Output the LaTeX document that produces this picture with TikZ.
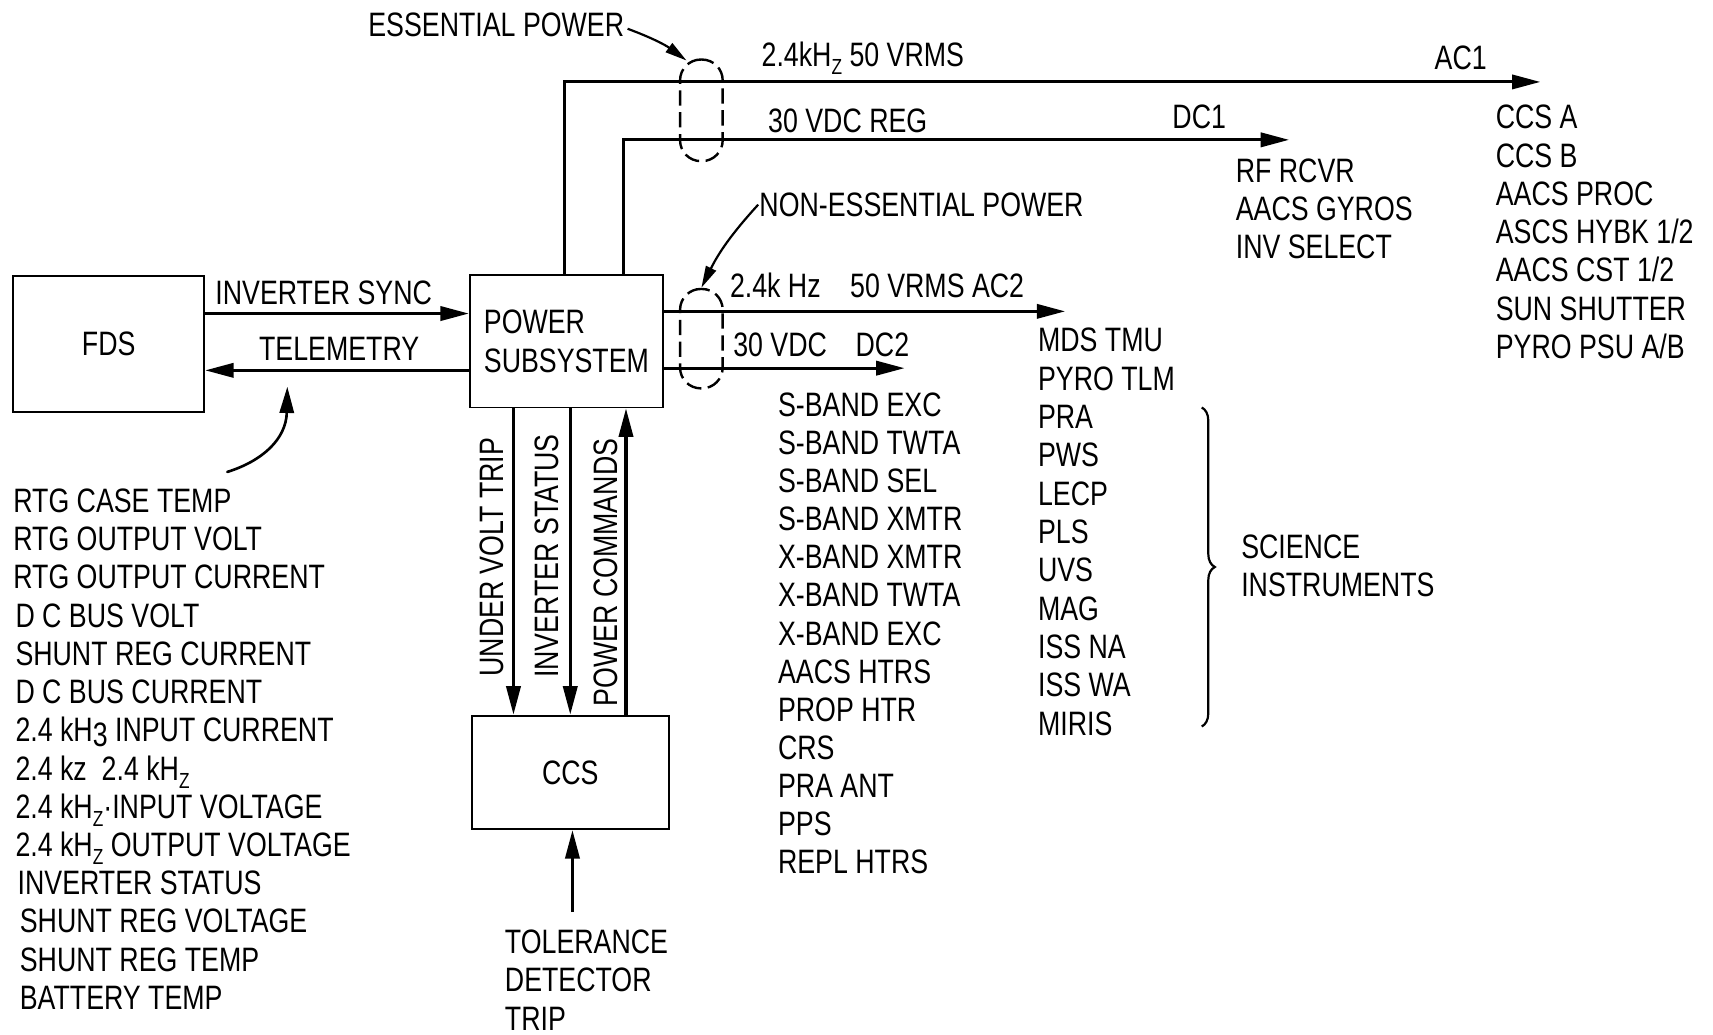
\documentclass[tikz,border=0pt]{standalone}
\usepackage{fontspec}
\setmainfont{Liberation Sans}[FakeStretch=0.79]
\usetikzlibrary{arrows.meta,shapes.geometric,decorations.pathreplacing}
\newcommand{\lowz}{\raisebox{-0.45ex}{\fontsize{20}{20}\selectfont Z}}
\newcommand{\lowthree}{\raisebox{-0.25ex}{3}}
\begin{document}
\begin{tikzpicture}[x=1pt,y=-1pt,
  every node/.append style={font=\fontsize{31}{36}\selectfont},
  lbl/.style={inner sep=0pt, anchor=base west},
  box/.style={draw, line width=1.7pt, inner sep=0pt},
  arr/.style={line width=2.8pt, -{Triangle[length=26pt,width=13pt]}},
  thinarr/.style={line width=2.4pt, -{Triangle[length=24pt,width=13pt]}},
  dsh/.style={draw, rectangle, rounded corners=19pt, inner sep=0pt, line width=2.2pt, dash pattern=on 14pt off 6pt}]
\useasboundingbox (0,0) rectangle (1568,947);

% boxes
\node[box, minimum width=175pt, minimum height=124pt] (fds) at (99.5,315) {FDS};
\node[box, minimum width=177pt, minimum height=121pt, align=left] (pss) at (518.5,312.5) {POWER\\SUBSYSTEM};
\node[box, minimum width=180pt, minimum height=104pt] (ccs) at (522,707) {CCS};

% FDS <-> power
\coordinate (ysync) at (0,287);
\coordinate (ytlm) at (0,339);
\draw[arr] (fds.east |- ysync) -- (pss.west |- ysync);
\draw[arr] (pss.west |- ytlm) -- (fds.east |- ytlm);
\node[lbl] (synclbl) at (197,279) {INVERTER SYNC};
\node[lbl] (tlmlbl) at (237,330) {TELEMETRY};

% telemetry list
\foreach \x/\t [count=\i from 0] in {12/RTG CASE TEMP, 12/RTG OUTPUT VOLT, 12/RTG OUTPUT CURRENT,
  14/D C BUS VOLT, 14/SHUNT REG CURRENT, 14/D C BUS CURRENT, 14/2.4 kH\lowthree{} INPUT CURRENT,
  14/2.4 kz\ \ 2.4 kH\lowz, 14/2.4 kH\lowz{}·INPUT VOLTAGE, 14/2.4 kH\lowz{} OUTPUT VOLTAGE,
  16/INVERTER STATUS, 18/SHUNT REG VOLTAGE, 18/SHUNT REG TEMP, 18/BATTERY TEMP}
  \node[lbl] (tm\i) at (\x,469+35*\i) {\t};
\coordinate (tmtail) at (208,432);
\coordinate (tmtip) at (263,354);
\draw[thinarr, line cap=round] (tmtail) .. controls (240,422) and (262,402) .. (tmtip);

% essential power
\coordinate (ac1) at (1410,75);
\coordinate (dc1) at (1180,128);
\coordinate (xac1) at (517,0);
\coordinate (xdc1) at (571,0);
\draw[arr] (xac1 |- pss.north) |- (ac1);
\draw[arr] (xdc1 |- pss.north) |- (dc1);
\node[dsh, minimum width=39pt, minimum height=93pt] (ess) at (642,101) {};
\node[lbl] (esslbl) at (337,33) {ESSENTIAL POWER};
\draw[thinarr, line width=2pt, -{Triangle[length=20pt,width=10pt]}] ([xshift=3pt,yshift=-4pt]esslbl.east) to[bend left=8] ([xshift=7pt,yshift=-2pt]ess.north west);
\node[lbl] (ac1v) at (697,61) {2.4kH\lowz{} 50 VRMS};
\node[lbl] (ac1n) at (1313,64) {AC1};
\node[lbl] (dc1v) at (703,121) {30 VDC REG};
\node[lbl] (dc1n) at (1073,118) {DC1};
\foreach \t [count=\i from 0] in {RF RCVR, AACS GYROS, INV SELECT}
  \node[lbl] (dcl\i) at (1131,167+35*\i) {\t};
\foreach \t [count=\i from 0] in {CCS A, CCS B, AACS PROC, ASCS HYBK 1/2, AACS CST 1/2, SUN SHUTTER, PYRO PSU A/B}
  \node[lbl] (acl\i) at (1369,118+35*\i) {\t};

% non-essential power
\coordinate (ac2) at (975,285);
\coordinate (dc2) at (828,337);
\draw[arr] (pss.east |- ac2) -- (ac2);
\draw[arr] (pss.east |- dc2) -- (dc2);
\node[dsh, minimum width=39pt, minimum height=91pt] (ness) at (642,310) {};
\node[lbl] (nesslbl) at (695,198) {NON-ESSENTIAL POWER};
\draw[thinarr, line width=2pt, -{Triangle[length=20pt,width=10pt]}] ([xshift=-1pt]nesslbl.west) to[bend right=8] (ness.north);
\node[lbl] (ac2v) at (668,272) {2.4k Hz};
\node[lbl] (ac2n) at (778,272) {50 VRMS AC2};
\node[lbl] (dc2v) at (671,326) {30 VDC};
\node[lbl] (dc2n) at (783,326) {DC2};
\foreach \t [count=\i from 0] in {S-BAND EXC, S-BAND TWTA, S-BAND SEL, S-BAND XMTR, X-BAND XMTR,
  X-BAND TWTA, X-BAND EXC, AACS HTRS, PROP HTR, CRS, PRA ANT, PPS, REPL HTRS}
  \node[lbl] (dcm\i) at (712,381+34.9*\i) {\t};
\foreach \t [count=\i from 0] in {MDS TMU, PYRO TLM, PRA, PWS, LECP, PLS, UVS, MAG, ISS NA, ISS WA, MIRIS}
  \node[lbl] (acm\i) at (950,322+35.1*\i) {\t};
\draw[line width=2pt, decorate, decoration={brace, amplitude=12pt}] (1100,373) -- (1100,665);
\node[lbl] (sci1) at (1136,511) {SCIENCE};
\node[lbl] (sci2) at (1136,546) {INSTRUMENTS};

% power <-> CCS
\coordinate (xuv) at (470,0);
\coordinate (xis) at (522,0);
\coordinate (xpc) at (573,0);
\draw[arr] (xuv |- pss.south) -- (xuv |- ccs.north);
\draw[arr] (xis |- pss.south) -- (xis |- ccs.north);
\draw[arr] (xpc |- ccs.north) -- (xpc |- pss.south);
\node[rotate=90, inner sep=0pt] (uvlbl) at (450,510) {UNDER VOLT TRIP};
\node[rotate=90, inner sep=0pt] (islbl) at (501,509) {INVERTER STATUS};
\node[rotate=90, inner sep=0pt] (pclbl) at (555,524) {POWER COMMANDS};

% tolerance detector
\coordinate (tolsrc) at (524,835);
\draw[arr] (tolsrc) -- (tolsrc |- ccs.south);
\foreach \t [count=\i from 0] in {TOLERANCE, DETECTOR, TRIP}
  \node[lbl] (tol\i) at (462,873+35*\i) {\t};
\end{tikzpicture}
\end{document}
